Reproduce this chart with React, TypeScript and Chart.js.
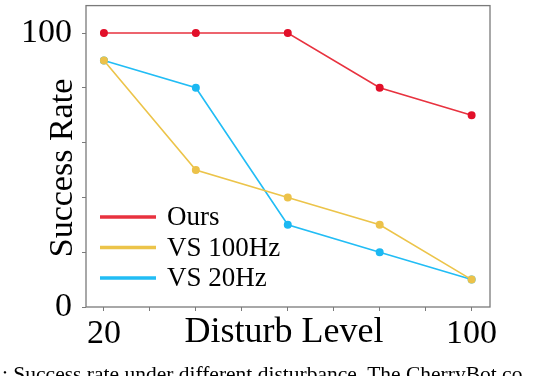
import React, { useEffect, useRef } from "react";
import { Chart, registerables } from "chart.js";

Chart.register(...registerables);

const disturbLevels = [20, 40, 60, 80, 100];
const oursValues = [100, 100, 100, 80, 70];
const vs100Values = [90, 50, 40, 30, 10];
const vs20Values = [90, 80, 30, 20, 10];
const xTickValues = [20, 30, 40, 50, 60, 70, 80, 90, 100];
const xTickLabels: Record<number, string> = { 20: "20", 100: "100" };
const yTickValues = [0, 20, 40, 60, 80, 100];
const yTickLabels: Record<number, string> = { 0: "0", 100: "100" };
const seriesNames = ["Ours", "VS 100Hz", "VS 20Hz"];
const xTitle = "Disturb Level";
const yTitle = "Success Rate";
const caption = ": Success rate under different disturbance. The CherryBot co";

const FONT = "'Liberation Serif', 'Times New Roman', serif";
const lineColors = ["#e8323f", "#ecc44a", "#22bdf5"];
const pointColors = ["#e2102a", "#ecc24a", "#1cb8f2"];

const decorPlugin = {
  id: "decor",
  afterDraw(chart: any) {
    const { ctx, chartArea } = chart;
    ctx.save();
    ctx.strokeStyle = "#7a7a7a";
    ctx.lineWidth = 1.3;
    ctx.strokeRect(chartArea.left, chartArea.top, chartArea.right - chartArea.left, chartArea.bottom - chartArea.top);
    ctx.fillStyle = "#000";
    ctx.font = `36px ${FONT}`;
    ctx.textAlign = "center";
    ctx.textBaseline = "alphabetic";
    ctx.fillText(xTitle, (chartArea.left + chartArea.right) / 2 - 4, 342);
    ctx.save();
    ctx.font = `34px ${FONT}`;
    ctx.translate(72, 168);
    ctx.rotate(-Math.PI / 2);
    ctx.textAlign = "center";
    ctx.fillText(yTitle, 0, 0);
    ctx.restore();
    ctx.font = `27px ${FONT}`;
    ctx.textAlign = "left";
    ctx.textBaseline = "middle";
    chart.data.datasets.forEach((ds: any, i: number) => {
      const y = 217 + i * 30.5;
      ctx.strokeStyle = ds.borderColor;
      ctx.lineWidth = 3.5;
      ctx.beginPath();
      ctx.moveTo(100, y);
      ctx.lineTo(156, y);
      ctx.stroke();
      ctx.fillStyle = "#000";
      ctx.fillText(ds.label, 167, y + 1);
    });
    ctx.restore();
  },
};

export default function App() {
  const ref = useRef<HTMLCanvasElement>(null);
  useEffect(() => {
    if (!ref.current) return;
    const mk = (vals: number[]) => disturbLevels.map((x, i) => ({ x, y: vals[i] }));
    const all = [oursValues, vs100Values, vs20Values];
    const chart = new Chart(ref.current, {
      type: "line",
      data: {
        datasets: all.map((vals, i) => ({
          label: seriesNames[i],
          data: mk(vals),
          borderColor: lineColors[i],
          backgroundColor: pointColors[i],
          pointBackgroundColor: pointColors[i],
          pointBorderColor: pointColors[i],
          pointRadius: 3.2,
          borderWidth: 1.6,
          tension: 0,
        })),
      },
      options: {
        animation: false,
        responsive: true,
        maintainAspectRatio: false,
        layout: { padding: { top: 1, right: 46, left: 0, bottom: 0 } },
        plugins: { legend: { display: false }, tooltip: { enabled: false } },
        scales: {
          x: {
            type: "linear",
            min: 16.1,
            max: 104,
            afterBuildTicks: (s: any) => {
              s.ticks = xTickValues.map((v) => ({ value: v }));
            },
            afterFit: (s: any) => {
              s.height = 69;
              s.paddingLeft = 0;
              s.paddingRight = 0;
            },
            grid: { drawOnChartArea: false, tickLength: 4, color: "#7a7a7a" },
            border: { display: false },
            ticks: {
              autoSkip: false,
              maxRotation: 0,
              padding: 3,
              color: "#000",
              font: { family: FONT, size: 34 },
              callback: (v: any) => xTickLabels[v] ?? "",
            },
          },
          y: {
            min: 0,
            max: 110,
            afterBuildTicks: (s: any) => {
              s.ticks = yTickValues.map((v) => ({ value: v }));
            },
            afterFit: (s: any) => {
              s.width = 86;
              s.paddingTop = 0;
              s.paddingBottom = 0;
            },
            grid: { drawOnChartArea: false, tickLength: 4, color: "#7a7a7a" },
            border: { display: false },
            ticks: {
              padding: 10,
              color: "#000",
              font: { family: FONT, size: 34 },
              callback: (v: any) => yTickLabels[v] ?? "",
            },
          },
        },
      },
      plugins: [decorPlugin],
    });
    return () => chart.destroy();
  }, []);
  return (
    <div style={{ position: "fixed", left: 0, top: 0, width: 536, height: 376, overflow: "hidden", background: "#fff" }}>
      <canvas ref={ref} />
      <div
        style={{
          position: "absolute",
          left: 2,
          top: 364,
          whiteSpace: "nowrap",
          fontFamily: FONT,
          fontSize: 21.5,
          lineHeight: "21px",
          color: "#000",
        }}
      >
        {caption}
      </div>
    </div>
  );
}
